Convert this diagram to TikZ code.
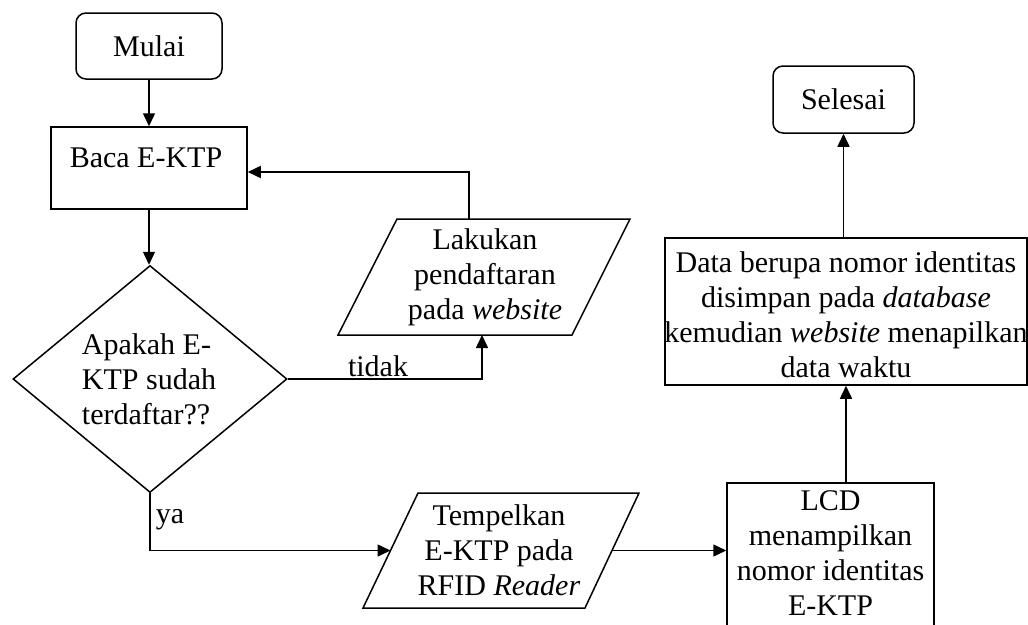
\documentclass[tikz,border=0pt]{standalone}
\usepackage{fontspec}
\setmainfont{Liberation Serif}
\usetikzlibrary{arrows.meta,shapes.geometric,calc}
\begin{document}
\begin{tikzpicture}[x=1pt,y=-1pt,
  every node/.style={font=\fontsize{30}{35}\selectfont, inner sep=0pt},
  line/.style={line width=1.5pt},
  arr/.style={line width=1.5pt, -{Triangle[length=13pt,width=12pt]}},
  box/.style={draw, line width=1.5pt, rectangle, align=center},
  term/.style={box, rounded corners=10pt},
  txt/.style={align=center}
]
\useasboundingbox (0,0) rectangle (1028,624);
\clip (0,0) rectangle (1028,624);

% terminals and boxes
\node[term, minimum width=146pt, minimum height=66pt] (mulai) at (149,46) {Mulai};
\node[box, minimum width=196pt, minimum height=82pt] (baca) at (149,168) {};
\node[txt] (bacatxt) at (146,158) {Baca E-KTP};

\node[draw, line width=1.5pt, diamond, minimum width=274pt, minimum height=227pt] (dec) at (150,379) {};
\node[align=left] (dectxt) at (149,379) {Apakah E-\\KTP sudah\\terdaftar??};

% parallelogram 1
\coordinate (p1tl) at (397,219);
\coordinate (p1tr) at (630,219);
\coordinate (p1br) at (572,335);
\coordinate (p1bl) at (338,335);
\draw[line] (p1tl) -- (p1tr) -- (p1br) -- (p1bl) -- cycle;
\node[txt] (p1) at (485,277) {Lakukan\\pendaftaran\\pada \textit{website}};
\coordinate (p1top) at (469,219);
\coordinate (p1bot) at (482,335);
\coordinate (p1turn) at (469,172);

% parallelogram 2
\coordinate (p2tl) at (418,493);
\coordinate (p2tr) at (639,493);
\coordinate (p2br) at (585,608);
\coordinate (p2bl) at (363,608);
\draw[line] (p2tl) -- (p2tr) -- (p2br) -- (p2bl) -- cycle;
\node[txt] (p2) at (499,550) {Tempelkan\\E-KTP pada\\RFID \textit{Reader}};
\coordinate (p2l) at ($(p2bl)!0.5!(p2tl)$);
\coordinate (p2r) at ($(p2br)!0.5!(p2tr)$);

\node[box, minimum width=207pt, minimum height=147pt] (lcd) at (830.5,556.5) {};
\node[txt] (lcdtxt) at (830.5,553) {LCD\\menampilkan\\nomor identitas\\E-KTP};
\node[box, minimum width=362pt, minimum height=147pt] (data) at (846,311.5) {};
\node[txt] (datatxt) at (846,315) {Data berupa nomor identitas\\disimpan pada \textit{database}\\kemudian \textit{website} menapilkan\\data waktu};
\node[term, minimum width=141pt, minimum height=67pt] (selesai) at (843.5,99.5) {Selesai};

% connectors
\draw[arr] (mulai.south) -- (baca.north);
\draw[arr] (baca.south) -- (baca.south |- dec.north);
\draw[arr] (dec.east) -| (p1bot);
\node (tidak) at (378,366) {tidak};
\draw[arr] (p1top) -- (p1turn) -- (baca.east |- p1turn);
\draw[arr] (dec.south) |- (p2l);
\node (ya) at (170,520) {ya};
\draw[arr] (p2r) -- (lcd.west |- p2r);
\draw[arr] (data.south |- lcd.north) -- (data.south);
\draw[arr] (selesai.south |- data.north) -- (selesai.south);
\end{tikzpicture}
\end{document}
